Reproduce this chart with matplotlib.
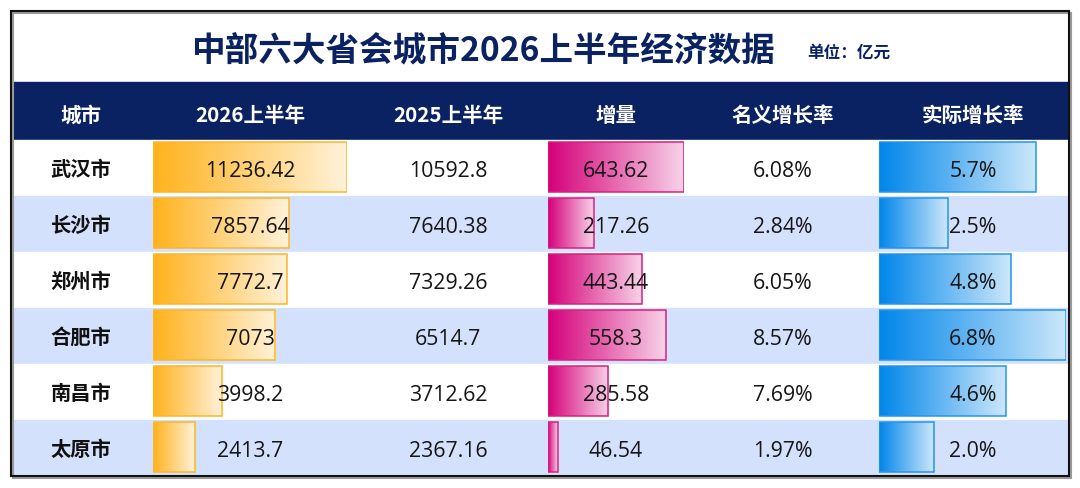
import numpy as np
import matplotlib.pyplot as plt
from matplotlib.colors import LinearSegmentedColormap
from matplotlib.patches import Rectangle

plt.rcParams['font.family'] = ['Noto Sans CJK SC', 'DejaVu Sans']

# ---------------------------------------------------------------------------
# data
# ---------------------------------------------------------------------------
title = '中部六大省会城市2026上半年经济数据'
unit = '单位：亿元'
headers = ['城市', '2026上半年', '2025上半年', '增量', '名义增长率', '实际增长率']
cities = ['武汉市', '长沙市', '郑州市', '合肥市', '南昌市', '太原市']
gdp_2026 = [11236.42, 7857.64, 7772.7, 7073, 3998.2, 2413.7]
gdp_2025 = [10592.8, 7640.38, 7329.26, 6514.7, 3712.62, 2367.16]
increase = [643.62, 217.26, 443.44, 558.3, 285.58, 46.54]
nominal = [6.08, 2.84, 6.05, 8.57, 7.69, 1.97]
real = [5.7, 2.5, 4.8, 6.8, 4.6, 2.0]

# ---------------------------------------------------------------------------
# layout (pixels)
# ---------------------------------------------------------------------------
W, H = 1080, 488
navy = '#0a2262'
stripe = '#d4e1fc'
row_top, row_h = 140, 56
n = len(cities)
col_x = [81, 250, 448, 616, 783, 973]
num_font = ['Open Sans', 'Noto Sans CJK SC']

fig = plt.figure(figsize=(W / 100, H / 100), dpi=100)


def px_axes(x0, y0, x1, y1):
    return fig.add_axes([x0 / W, 1 - y1 / H, (x1 - x0) / W, (y1 - y0) / H])


bg = px_axes(0, 0, W, H)
bg.set_xlim(0, W)
bg.set_ylim(H, 0)
bg.axis('off')
bg.add_patch(Rectangle((11, 82), 1058, 58, color=navy))
for i in range(n):
    bg.add_patch(Rectangle((11, row_top + i * row_h), 1058, row_h,
                           color=stripe if i % 2 else 'white'))


def data_bars(values, x0, x1, c_left, c_right, c_edge):
    ax = px_axes(x0, row_top, x1, row_top + n * row_h)
    ax.axis('off')
    rows = np.arange(n)
    bars = ax.barh(rows - 0.018, values, height=0.893, facecolor='none',
                   edgecolor=c_edge, linewidth=1.1, zorder=3)
    cmap = LinearSegmentedColormap.from_list('grad', [c_left, c_right])
    grad = np.linspace(0, 1, 256).reshape(1, -1)
    for b in bars:
        x, y = b.get_x(), b.get_y()
        im = ax.imshow(grad, cmap=cmap, aspect='auto', zorder=2,
                       extent=(x, x + b.get_width(), y + b.get_height(), y))
        im.set_clip_path(b)
    ax.set_xlim(0, max(values))
    ax.set_ylim(n - 0.5, -0.5)


data_bars(gdp_2026, 153, 347, '#ffb21c', '#fff2da', '#ffb524')
data_bars(increase, 548, 684, '#d5007a', '#f7d3e8', '#d81f80')
data_bars(real, 879, 1066, '#0086ea', '#cce7fa', '#2594ee')

# ---------------------------------------------------------------------------
# texts on top
# ---------------------------------------------------------------------------
top = px_axes(0, 0, W, H)
top.set_xlim(0, W)
top.set_ylim(H, 0)
top.axis('off')

top.text(483, 60, title, ha='center', va='baseline', fontsize=24.2,
         fontweight='bold', color=navy)
top.text(807, 58, unit, ha='left', va='baseline', fontsize=12,
         fontweight='bold', color=navy)

for x, h in zip(col_x, headers):
    top.text(x, 122, h, ha='center', va='baseline', fontsize=14.8,
             fontweight='bold', color='white')

for i in range(n):
    y = row_top + i * row_h + 37
    cells = [f'{gdp_2026[i]:.10g}', f'{gdp_2025[i]:.10g}',
             f'{increase[i]:.10g}', f'{nominal[i]:.2f}%', f'{real[i]:.1f}%']
    top.text(col_x[0], y - 1, cities[i], ha='center', va='baseline',
             fontsize=14.6, fontweight='bold', color='#111111')
    for x, s in zip(col_x[1:], cells):
        top.text(x, y, s, ha='center', va='baseline', fontsize=15.3,
                 family=num_font, color='#151515')

top.add_patch(Rectangle((12.5, 12.5), 1058, 465, fill=False, lw=1.5,
                        edgecolor='#9a9a9a'))
top.add_patch(Rectangle((11, 11), 1058, 465, fill=False, lw=1.5,
                        edgecolor='#111111'))

fig.savefig('out.png', dpi=100)
